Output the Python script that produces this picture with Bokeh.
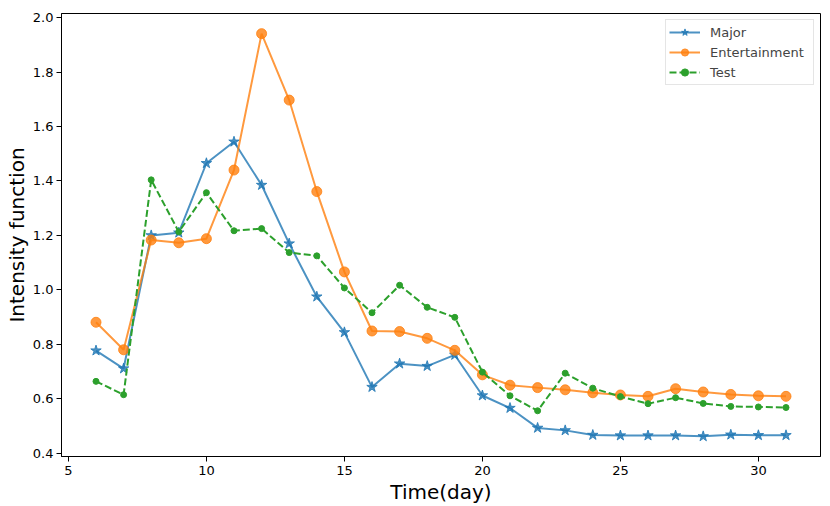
from bokeh.plotting import figure
from bokeh.models import Range1d, FixedTicker, PrintfTickFormatter, Legend
from bokeh.embed import file_html
from bokeh.resources import INLINE

days = list(range(6, 32))
major = [0.777, 0.711, 1.200, 1.210, 1.465, 1.544, 1.385, 1.170, 0.975, 0.844,
         0.643, 0.729, 0.720, 0.761, 0.612, 0.566, 0.493, 0.484, 0.467, 0.465,
         0.465, 0.465, 0.462, 0.468, 0.466, 0.466]
entertainment = [0.881, 0.780, 1.183, 1.173, 1.188, 1.440, 1.941, 1.697, 1.361, 1.066,
                 0.849, 0.847, 0.822, 0.778, 0.688, 0.650, 0.641, 0.633, 0.622, 0.614,
                 0.609, 0.637, 0.625, 0.616, 0.611, 0.609]
test = [0.664, 0.615, 1.404, 1.213, 1.357, 1.217, 1.225, 1.137, 1.125, 1.007,
        0.916, 1.017, 0.936, 0.899, 0.698, 0.611, 0.556, 0.694, 0.639, 0.608,
        0.582, 0.604, 0.583, 0.572, 0.570, 0.568]
x_ticks = [5, 10, 15, 20, 25, 30]
y_ticks = [0.4, 0.6, 0.8, 1.0, 1.2, 1.4, 1.6, 1.8, 2.0]

FONT = "DejaVu Sans"
BLUE, ORANGE, GREEN = "#1f77b4", "#ff7f0e", "#2ca02c"

xmin, xmax = min(days), max(days)
allv = major + entertainment + test
ymin, ymax = min(allv), max(allv)
xpad = (xmax - xmin) * 0.05
ypad = (ymax - ymin) * 0.05

p = figure(width=830, height=506, output_backend="svg", toolbar_location=None,
           x_range=Range1d(xmin - xpad, xmax + xpad),
           y_range=Range1d(ymin - ypad, ymax + ypad),
           min_border_left=61, min_border_right=10, min_border_top=13, min_border_bottom=49)

p.xgrid.visible = False
p.ygrid.visible = False
p.outline_line_color = "black"
p.outline_line_width = 1
p.background_fill_color = "white"
p.border_fill_color = "white"

p.xaxis.ticker = FixedTicker(ticks=x_ticks)
p.yaxis.ticker = FixedTicker(ticks=y_ticks)
p.yaxis.formatter = PrintfTickFormatter(format="%.1f")
for ax in (p.xaxis, p.yaxis):
    ax.axis_line_color = "black"
    ax.major_tick_line_color = "black"
    ax.minor_tick_line_color = None
    ax.major_tick_in = 0
    ax.major_tick_out = 5
    ax.major_label_text_font = FONT
    ax.major_label_text_font_size = "13px"
    ax.major_label_text_color = "black"
    ax.axis_label_text_font = FONT
    ax.axis_label_text_font_size = "20px"
    ax.axis_label_text_font_style = "normal"
    ax.axis_label_text_color = "black"
p.xaxis.axis_label = "Time(day)"
p.yaxis.axis_label = "Intensity function"
p.xaxis.major_label_standoff = 4
p.xaxis.axis_label_standoff = 2
p.yaxis.major_label_standoff = 3
p.yaxis.axis_label_standoff = 1

l1 = p.line(days, major, line_color=BLUE, line_width=2, line_alpha=0.8)
s1 = p.scatter(days, major, marker="star", size=11, fill_color=BLUE, line_color=BLUE,
               fill_alpha=0.8, line_alpha=0.8)
l2 = p.line(days, entertainment, line_color=ORANGE, line_width=2, line_alpha=0.8)
s2 = p.scatter(days, entertainment, marker="circle", size=10, fill_color=ORANGE,
               line_color=ORANGE, fill_alpha=0.8, line_alpha=0.8)
l3 = p.line(days, test, line_color=GREEN, line_width=2, line_dash="7 3")
s3 = p.scatter(days, test, marker="circle", size=6, fill_color=GREEN, line_color=GREEN)

legend = Legend(items=[("Major", [l1, s1]), ("Entertainment", [l2, s2]), ("Test", [l3, s3])],
                location="top_right")
legend.label_text_font = FONT
legend.label_text_font_size = "13px"
legend.glyph_width = 31
legend.glyph_height = 18
legend.label_standoff = 10
legend.label_width = 100
legend.spacing = 2
legend.padding = 3
legend.margin = 6
legend.border_line_color = "#cccccc"
legend.border_line_width = 1
legend.background_fill_alpha = 0.8
p.add_layout(legend, "center")

open("out.html", "w").write(file_html(p, INLINE))
